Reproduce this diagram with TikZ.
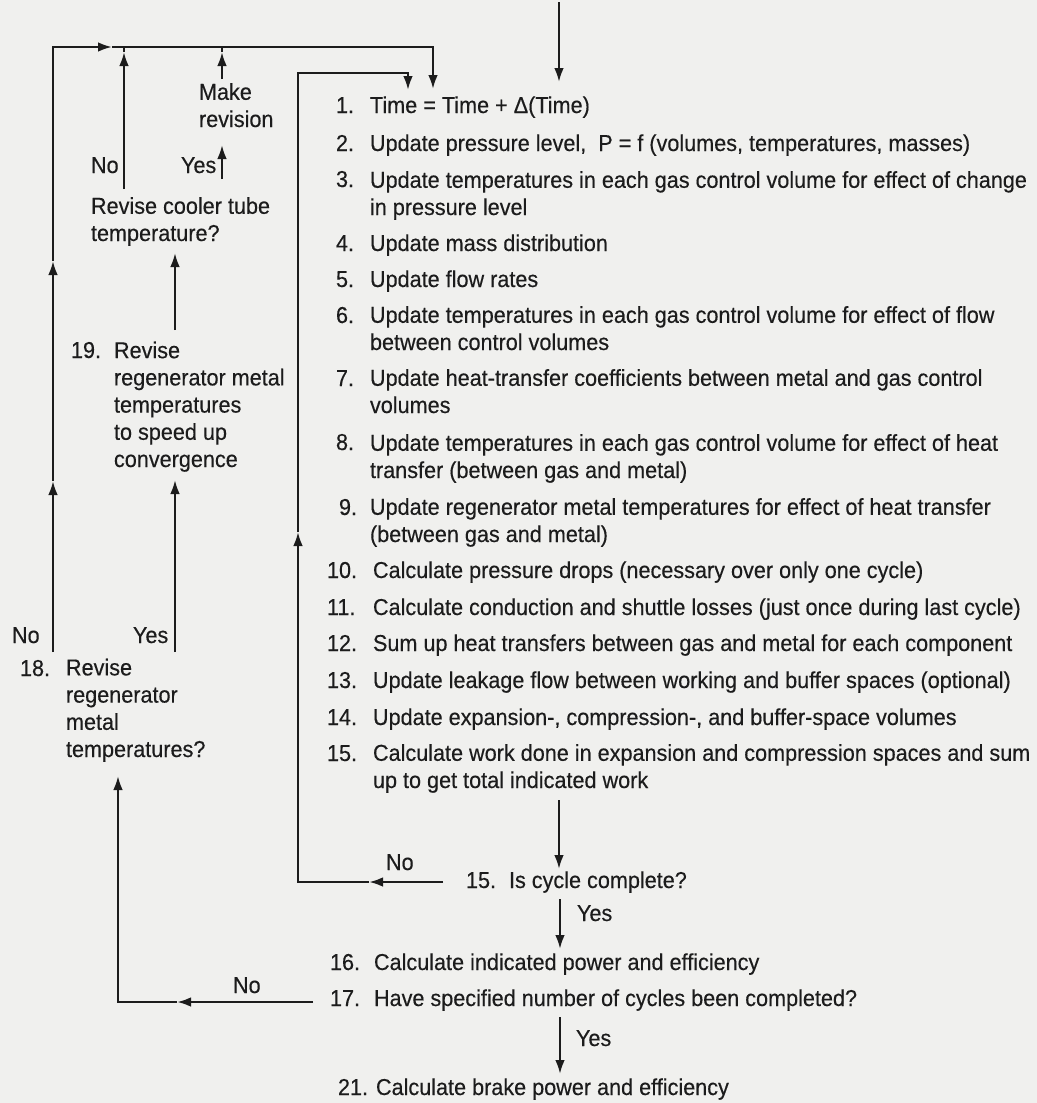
\documentclass[tikz,border=0pt]{standalone}
\usepackage{fontspec}
\setmainfont{Liberation Sans}[FakeStretch=0.94,FakeBold=0.35]
\usetikzlibrary{arrows.meta}
\definecolor{paper}{RGB}{240,240,238}
\definecolor{ink}{RGB}{28,28,28}
\begin{document}
\begin{tikzpicture}[x=0.5pt,y=-0.5pt,
  every node/.style={inner sep=0pt, outer sep=0pt, anchor=base west, text=ink,
    font=\fontsize{11.5}{13.6}\selectfont, align=left, yshift=-1pt},
  conn/.style={draw=ink, line width=1.15pt},
  arr/.style={conn, -{Latex[length=7pt,width=4.8pt]}},
]
\fill[paper] (0,0) rectangle (1037,1103);
\useasboundingbox (0,0) rectangle (1037,1103);

% ---- main list (multi-line nodes are placed by the baseline of their last line)
\node (k1)  at (336,111) {1.};  \node (t1)  at (370,111) {Time = Time + Δ(Time)};
\node (k2)  at (336,149) {2.};  \node (t2)  at (370,149) {Update pressure level,\ \ P = f (volumes, temperatures, masses)};
\node (k3)  at (336,185) {3.};  \node (t3)  at (370,213) {Update temperatures in each gas control volume for effect of change\\in pressure level};
\node (k4)  at (336,249) {4.};  \node (t4)  at (370,249) {Update mass distribution};
\node (k5)  at (336,285) {5.};  \node (t5)  at (370,285) {Update flow rates};
\node (k6)  at (336,321) {6.};  \node (t6)  at (370,348) {Update temperatures in each gas control volume for effect of flow\\between control volumes};
\node (k7)  at (336,384) {7.};  \node (t7)  at (370,411) {Update heat-transfer coefficients between metal and gas control\\volumes};
\node (k8)  at (336,448) {8.};  \node (t8)  at (370,476) {Update temperatures in each gas control volume for effect of heat\\transfer (between gas and metal)};
\node (k9)  at (339,513) {9.};  \node (t9)  at (370,540) {Update regenerator metal temperatures for effect of heat transfer\\(between gas and metal)};
\node (k10) at (327,576) {10.}; \node (t10) at (373,576) {Calculate pressure drops (necessary over only one cycle)};
\node (k11) at (327,613) {11.}; \node (t11) at (373,613) {Calculate conduction and shuttle losses (just once during last cycle)};
\node (k12) at (327,649) {12.}; \node (t12) at (373,649) {Sum up heat transfers between gas and metal for each component};
\node (k13) at (327,686) {13.}; \node (t13) at (373,686) {Update leakage flow between working and buffer spaces (optional)};
\node (k14) at (327,723) {14.}; \node (t14) at (373,723) {Update expansion-, compression-, and buffer-space volumes};
\node (k15) at (327,759) {15.}; \node (t15) at (373,786) {Calculate work done in expansion and compression spaces and sum\\up to get total indicated work};

\node (k15q) at (466,886) {15.}; \node (t15q) at (509,886) {Is cycle complete?};
\node (k16) at (330,968) {16.};  \node (t16) at (374,968) {Calculate indicated power and efficiency};
\node (k17) at (330,1004) {17.}; \node (t17) at (374,1004) {Have specified number of cycles been completed?};
\node (k21) at (338,1093) {21.}; \node (t21) at (376,1093) {Calculate brake power and efficiency};

% ---- left column
\node (mk) at (199,125) {Make\\revision};
\node (lno1) at (91,171) {No};
\node (lyes1) at (181,171) {Yes};
\node (q20) at (91,239) {Revise cooler tube\\temperature?};
\node (k19) at (71,356) {19.}; \node (t19) at (114,465) {Revise\\regenerator metal\\temperatures\\to speed up\\convergence};
\node (lno2) at (12,641) {No};
\node (lyes2) at (133,641) {Yes};
\node (k18) at (20,674) {18.}; \node (t18) at (66,755) {Revise\\regenerator\\metal\\temperatures?};

\node (lno3) at (386,868) {No};
\node (lyes3) at (577,919) {Yes};
\node (lno4) at (233,991) {No};
\node (lyes4) at (576,1044) {Yes};

% ---- connectors
\coordinate (entry) at (559,0);   \coordinate (entryT) at (559,80);
\draw[arr] (entry) -- (entryT);

\coordinate (o18) at (53,650);  \coordinate (oA1) at (53,479);
\coordinate (oA2) at (53,259);  \coordinate (oTL) at (53,45);
\coordinate (oA3) at (112,45);  \coordinate (oTR) at (433,45);
\coordinate (oEnd) at (433,87);
\draw[arr] (o18) -- (oA1);
\draw[arr] (oA1) -- (oA2);
\draw[arr] (oA2) -- (oTL) -- (oA3);
\draw[arr] (oA3) -- (oTR) -- (oEnd);

\coordinate (noS) at (124,187); \coordinate (noT) at (124,50); \coordinate (noE) at (124,45);
\draw[arr] (noS) -- (noT); \draw[conn] (noT) -- (noE);
\coordinate (yesS) at (222,177); \coordinate (yesT) at (222,143);
\draw[arr] (yesS) -- (yesT);
\coordinate (mkS) at (222,77); \coordinate (mkT) at (222,50); \coordinate (mkE) at (222,45);
\draw[arr] (mkS) -- (mkT); \draw[conn] (mkT) -- (mkE);

\coordinate (a19S) at (175,328); \coordinate (a19T) at (175,251);
\draw[arr] (a19S) -- (a19T);
\coordinate (a18S) at (175,650); \coordinate (a18T) at (175,478);
\draw[arr] (a18S) -- (a18T);

\coordinate (n17S) at (313,1000); \coordinate (n17M) at (177,1000);
\coordinate (n17C) at (118,1000); \coordinate (n17T) at (118,774);
\draw[arr] (n17S) -- (n17M);
\draw[arr] (n17M) -- (n17C) -- (n17T);

\coordinate (n15S) at (443,880); \coordinate (n15M) at (369,880);
\coordinate (n15C) at (298,880); \coordinate (n15U) at (298,530);
\coordinate (n15TL) at (298,71); \coordinate (n15TR) at (408,71);
\coordinate (n15T) at (408,88);
\draw[arr] (n15S) -- (n15M);
\draw[arr] (n15M) -- (n15C) -- (n15U);
\draw[arr] (n15U) -- (n15TL) -- (n15TR) -- (n15T);

\coordinate (c15S) at (559,798); \coordinate (c15T) at (559,867);
\draw[arr] (c15S) -- (c15T);
\coordinate (c16S) at (560,897); \coordinate (c16T) at (560,947);
\draw[arr] (c16S) -- (c16T);
\coordinate (c21S) at (560,1015); \coordinate (c21T) at (560,1072);
\draw[arr] (c21S) -- (c21T);
\end{tikzpicture}
\end{document}
